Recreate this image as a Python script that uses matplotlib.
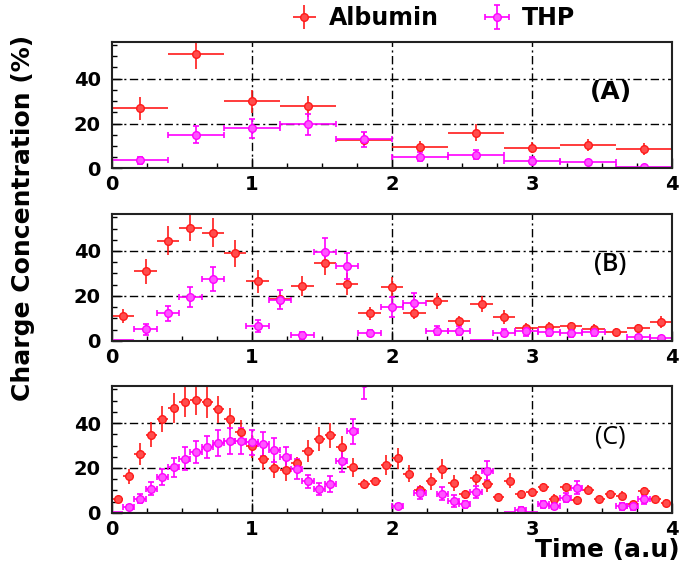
import numpy as np
import matplotlib.pyplot as plt
from matplotlib.ticker import MultipleLocator

nan = np.nan

# panel (A): bins of width 0.4
a_time = [0.2, 0.6, 1.0, 1.4, 1.8, 2.2, 2.6, 3.0, 3.4, 3.8]
a_alb = [26.7, 50.8, 29.9, 27.6, 12.7, 9.6, 15.9, 9.2, 10.4, 8.7]
a_alb_err = [5.0, 6.5, 5.0, 4.7, 3.0, 2.5, 3.7, 2.5, 2.5, 2.5]
a_thp = [3.6, 15.1, 17.9, 19.6, 12.9, 5.3, 6.2, 3.4, 2.8, 0.8]
a_thp_err = [1.5, 4.0, 4.2, 4.6, 3.5, 2.0, 2.0, 1.5, 1.0, 0.5]

# panel (B): bins of width 0.16
b_time = [0.08, 0.24, 0.40, 0.56, 0.72, 0.88, 1.04, 1.20, 1.36, 1.52, 1.68, 1.84, 2.00,
          2.16, 2.32, 2.48, 2.64, 2.80, 2.96, 3.12, 3.28, 3.44, 3.60, 3.76, 3.92]
b_alb = [11.0, 30.9, 44.6, 50.3, 48.1, 39.0, 26.5, 18.7, 24.3, 34.6, 25.3, 12.2, 23.8,
         12.5, 17.6, 8.7, 16.5, 10.6, 5.9, 6.2, 6.6, 5.4, 4.1, 5.7, 8.4]
b_alb_err = [3.0, 5.5, 6.5, 6.0, 6.5, 6.0, 5.0, 3.5, 4.5, 5.5, 5.0, 3.0, 4.5,
             3.0, 3.5, 2.5, 3.5, 3.0, 2.0, 2.0, 2.0, 2.0, 1.5, 2.0, 2.5]
b_thp = [0.3, 5.1, 12.2, 19.4, 27.5, nan, 6.6, 18.4, 2.5, 39.4, 33.4, 3.5, 15.1,
         16.9, 4.6, 4.4, 0.3, 3.7, 4.3, 4.0, 3.7, 4.1, nan, 1.8, 1.2]
b_thp_err = [0.3, 2.5, 3.3, 4.5, 5.3, nan, 2.8, 4.4, 1.5, 6.2, 5.7, 1.5, 4.5,
             4.3, 2.0, 2.0, 0.3, 1.5, 2.0, 2.0, 2.0, 2.0, nan, 1.0, 0.8]

# panel (C): bins of width 0.08
c_time = [0.04, 0.12, 0.20, 0.28, 0.36, 0.44, 0.52, 0.60, 0.68, 0.76,
          0.84, 0.92, 1.00, 1.08, 1.16, 1.24, 1.32, 1.40, 1.48, 1.56,
          1.64, 1.72, 1.80, 1.88, 1.96, 2.04, 2.12, 2.20, 2.28, 2.36,
          2.44, 2.52, 2.60, 2.68, 2.76, 2.84, 2.92, 3.00, 3.08, 3.16,
          3.24, 3.32, 3.40, 3.48, 3.56, 3.64, 3.72, 3.80, 3.88, 3.96]
c_alb = [6.0, 16.3, 26.4, 34.9, 41.8, 46.6, 49.5, 50.2, 49.2, 46.2,
         41.9, 36.1, 29.6, 23.9, 19.8, 19.3, 22.0, 27.6, 33.0, 34.5,
         29.3, 20.3, 13.0, 14.0, 21.4, 24.4, 17.4, 10.0, 14.0, 19.6,
         13.3, 8.2, 15.6, 12.7, 7.1, 14.4, 8.3, 9.3, 11.5, 6.4,
         11.5, 5.7, 10.3, 6.1, 8.2, 7.6, 3.9, 9.6, 6.0, 4.5]
c_alb_err = [1.5, 3.4, 4.9, 5.7, 5.8, 6.6, 6.6, 6.5, 7.0, 6.0,
             5.0, 5.3, 5.1, 4.6, 4.4, 4.9, 2.9, 4.8, 5.3, 5.6,
             5.0, 4.3, 2.0, 2.0, 4.4, 4.7, 3.8, 2.5, 3.7, 4.6,
             3.4, 2.0, 3.0, 3.6, 1.5, 3.3, 2.0, 2.0, 2.0, 2.0,
             2.0, 2.0, 2.0, 1.5, 2.0, 2.0, 1.5, 2.0, 1.5, 1.5]
c_thp = [0.5, 2.7, 6.4, 10.8, 15.9, 20.3, 24.2, 27.1, 29.5, 31.0,
         32.0, 32.0, 31.5, 30.5, 28.0, 24.7, 19.5, 14.0, 10.5, 13.0,
         23.2, 36.4, 58.0, nan, nan, 3.0, nan, 8.9, nan, 8.6,
         5.4, 3.8, 9.3, 18.8, nan, 0.3, 1.5, 0.3, 3.9, 3.0,
         6.8, 11.2, nan, nan, nan, 3.0, 3.0, 6.0, nan, nan]
c_thp_err = [0.5, 1.0, 2.2, 2.9, 3.5, 4.2, 5.1, 4.9, 4.9, 5.7,
             5.8, 5.6, 5.5, 5.3, 5.3, 4.5, 4.5, 2.9, 2.6, 3.5,
             4.8, 5.6, 7.5, nan, nan, 1.0, nan, 2.8, nan, 2.9,
             2.6, 1.5, 2.5, 4.2, nan, 0.3, 1.0, 0.3, 1.5, 1.2,
             2.0, 2.9, nan, nan, nan, 1.5, 1.5, 2.0, nan, nan]

panels = [
    ("(A)", a_time, 0.2, a_alb, a_alb_err, a_thp, a_thp_err),
    ("(B)", b_time, 0.08, b_alb, b_alb_err, b_thp, b_thp_err),
    ("(C)", c_time, 0.04, c_alb, c_alb_err, c_thp, c_thp_err),
]
label_fonts = [
    dict(family="DejaVu Sans", weight="bold"),
    dict(family="Open Sans", weight="semibold"),
    dict(family="Open Sans", weight="normal"),
]

RED = "#ff1a1a"
MAG = "#ff00ff"
grid_ls = (0, (6, 2.5, 1.5, 2.5))

fig = plt.figure(figsize=(6.83, 5.69), dpi=100)
bottoms = [0.704, 0.401, 0.0986]
handles = None

for (name, t, half, alb, alb_err, thp, thp_err), bot, lf in zip(panels, bottoms, label_fonts):
    ax = fig.add_axes([0.164, bot, 0.820, 0.223])
    t = np.array(t)
    thp = np.array(thp)
    thp_err = np.array(thp_err)

    h1 = ax.errorbar(t, alb, yerr=alb_err, xerr=half, fmt="o", color=RED,
                     mfc="#ff4d4d", mec=RED, ms=5.5, elinewidth=1.2, capsize=0)
    low = thp < 0.6
    h2 = ax.errorbar(t[~low], thp[~low], yerr=thp_err[~low], xerr=half, fmt="o",
                     color=MAG, mfc="#ff55ff", mec=MAG, ms=5.5, elinewidth=1.2,
                     capsize=2.5, capthick=1.2)
    ax.errorbar(t[low], thp[low], xerr=half, fmt="none", color=MAG, elinewidth=1.2)
    if handles is None:
        handles = [h1, h2]

    ax.set_xlim(0, 4)
    ax.set_ylim(0, 56.5)
    ax.xaxis.set_major_locator(MultipleLocator(1))
    ax.xaxis.set_minor_locator(MultipleLocator(0.25))
    ax.yaxis.set_major_locator(MultipleLocator(20))
    ax.yaxis.set_minor_locator(MultipleLocator(5))
    ax.tick_params(which="both", direction="in", top=False, right=False)
    ax.tick_params(which="major", length=7, width=1, labelsize=14)
    ax.tick_params(which="minor", length=3.5, width=1)
    ax.tick_params(axis="y", pad=8)
    ax.tick_params(axis="x", pad=5)
    for lab in ax.get_xticklabels() + ax.get_yticklabels():
        lab.set_fontweight("bold")
    for s in ax.spines.values():
        s.set_linewidth(1.5)
        s.set_color("#222222")

    for gx in [1, 2, 3]:
        ax.axvline(gx, color="black", lw=1, ls=grid_ls, zorder=0)
    for gy in [20, 40]:
        ax.axhline(gy, color="black", lw=1, ls=grid_ls, zorder=0)

    ax.text(0.89, 0.60, name, transform=ax.transAxes, ha="center", va="center",
            fontsize=18, color="black", **lf)

fig.legend(handles, ["Albumin", "THP"], loc="center", bbox_to_anchor=(0.636, 0.968),
           ncol=2, frameon=False, handlelength=0.9, handletextpad=0.6,
           columnspacing=2.0, prop=dict(weight="bold", size=17))

fig.text(0.034, 1 - 217.5 / 569, "Charge Concentration (%)", rotation=90,
         ha="center", va="center", fontsize=18, fontweight="bold")
fig.text(0.995, 0.034, "Time (a.u)", ha="right", va="center",
         fontsize=18, fontweight="bold")

fig.savefig("out.png", dpi=100)
